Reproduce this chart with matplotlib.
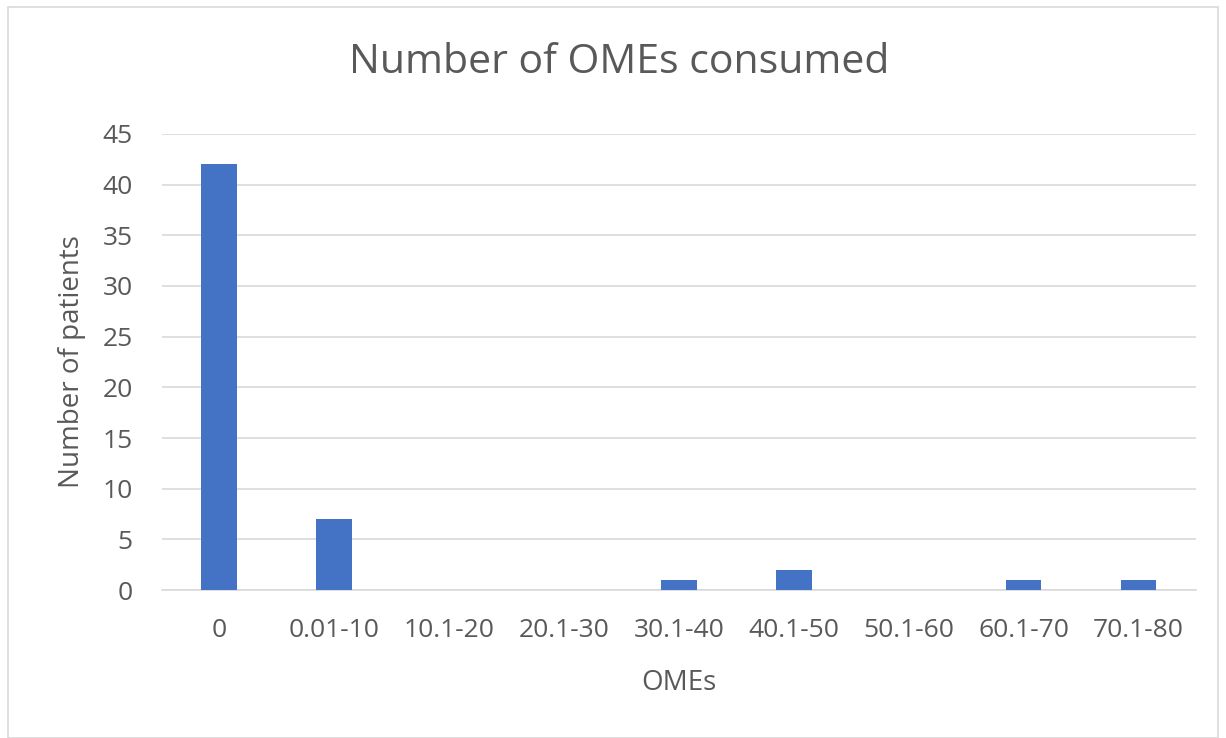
import matplotlib.pyplot as plt
from matplotlib.patches import Rectangle

# dados
categorias = ["0", "0.01-10", "10.1-20", "20.1-30", "30.1-40",
              "40.1-50", "50.1-60", "60.1-70", "70.1-80"]
pacientes = [42, 7, 0, 0, 1, 2, 0, 1, 1]
yticks = [0, 5, 10, 15, 20, 25, 30, 35, 40, 45]

plt.rcParams['font.family'] = ['Open Sans', 'DejaVu Sans']
cinza = "#595959"

fig = plt.figure(figsize=(12.26, 7.38), dpi=100)
ax = fig.add_axes([0.132, 0.2005, 0.8435, 0.618])

# moldura clara em volta do gráfico
fig.patches.append(Rectangle((8 / 1226, 0), 1210 / 1226, 731 / 738,
                             transform=fig.transFigure, fill=False,
                             edgecolor="#d9d9d9", linewidth=1.2))

x = range(len(categorias))
ax.bar(x, pacientes, width=0.31, color="#4472C4", zorder=3)

ax.set_xlim(-0.5, len(categorias) - 0.5)
ax.set_ylim(0, 45)
ax.set_yticks(yticks)
ax.set_xticks(list(x))
ax.set_xticklabels(categorias)
ax.grid(axis="y", color="#d9d9d9", linewidth=1.2, zorder=0)
ax.tick_params(axis="both", length=0, labelsize=19, labelcolor=cinza)
ax.tick_params(axis="x", pad=20)
ax.tick_params(axis="y", pad=21)
for s in ["top", "right", "left"]:
    ax.spines[s].set_visible(False)
ax.spines["bottom"].set_color("#d9d9d9")
ax.spines["bottom"].set_linewidth(1.2)

# rótulos dos eixos e título
fig.text(0.5538, 0.0745, "OMEs", ha="center", va="center",
         fontsize=20, color=cinza)
fig.text(0.0587, 0.5095, "Number of patients", ha="center", va="center",
         rotation=90, fontsize=20, color=cinza)
fig.text(0.505, 0.9146, "Number of OMEs consumed", ha="center", va="center",
         fontsize=29.5, color=cinza)

plt.savefig("out.png", dpi=100)
